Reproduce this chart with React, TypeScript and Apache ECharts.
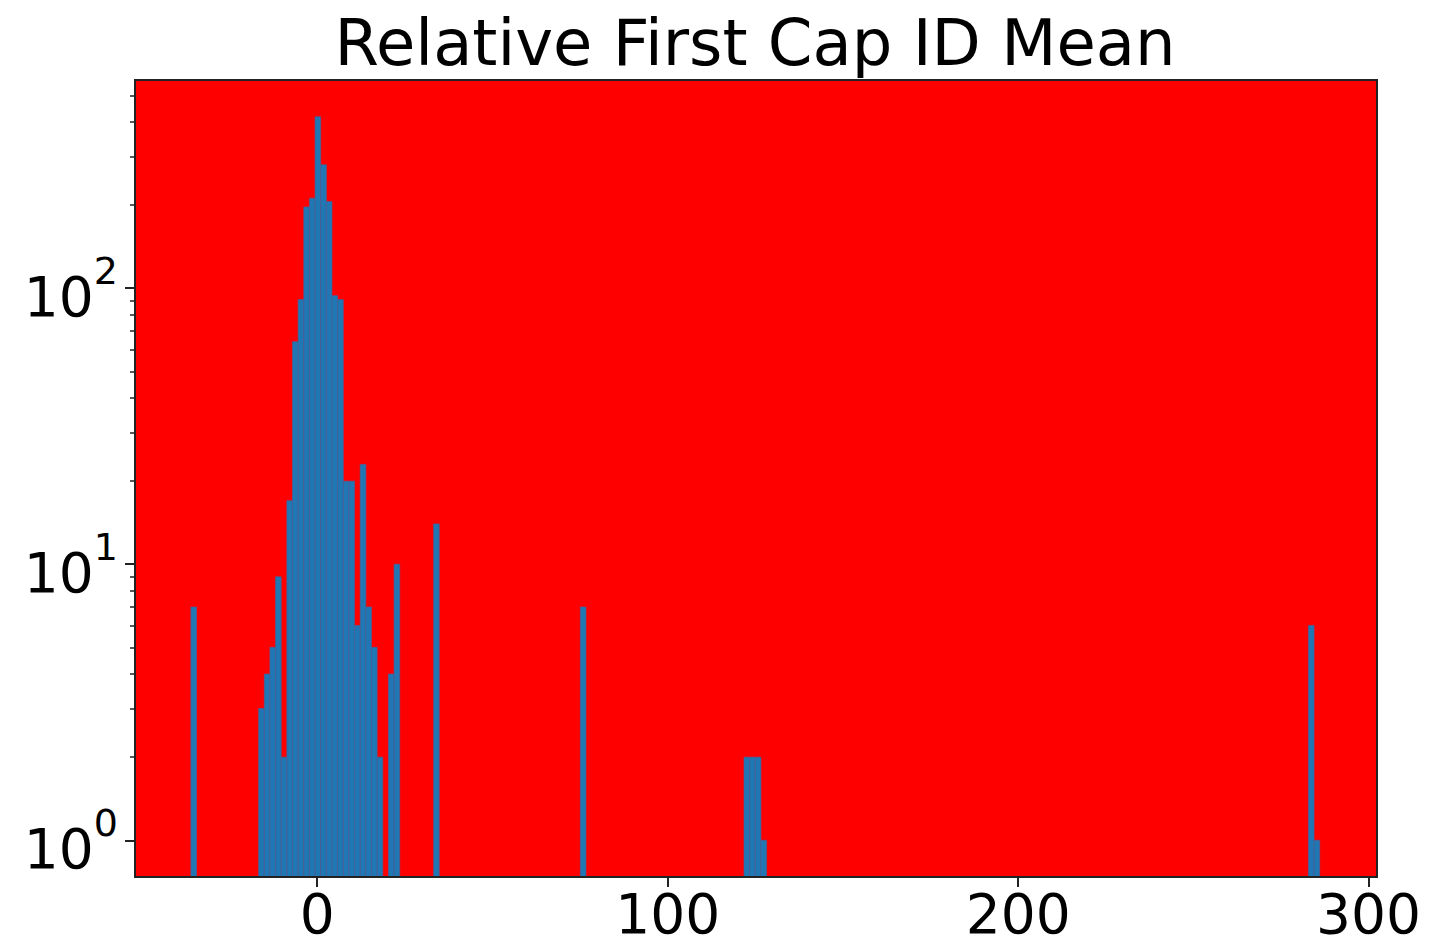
import React, { useEffect, useRef } from 'react';
import * as echarts from 'echarts';

const TITLE = 'Relative First Cap ID Mean';
// histogram: 200 equal bins starting at BIN_MIN; only non-empty bins listed
const BIN_MIN = -36.05;
const BIN_WIDTH = 1.6105;
const BIN_INDEX = [0, 12, 13, 14, 15, 16, 17, 18, 19, 20, 21, 22, 23, 24, 25, 26, 27, 28, 29, 30, 31, 32, 33, 35, 36, 43, 69, 98, 99, 100, 101, 198, 199];
const BIN_COUNT = [7, 3, 4, 5, 9, 2, 17, 64, 91, 197, 212, 418, 280, 206, 94, 91, 20, 20, 6, 23, 7, 5, 2, 4, 10, 14, 7, 2, 2, 2, 1, 6, 1];
const X_TICKS = [0, 100, 200, 300];
const Y_MAJOR = [1, 10, 100];
const Y_MINOR = [2, 3, 4, 5, 6, 7, 8, 9, 20, 30, 40, 50, 60, 70, 80, 90, 200, 300, 400, 500];
const X_MIN = -52;
const X_MAX = 302.4;
const Y_MIN = 0.736;
const Y_MAX = 568;

const FONT = 'DejaVu Sans';

export default function App() {
  const ref = useRef<HTMLDivElement>(null);
  useEffect(() => {
    if (!ref.current) return;
    const chart = echarts.init(ref.current, undefined, { renderer: 'svg' });
    const data = BIN_INDEX.map((b, i) => [BIN_MIN + b * BIN_WIDTH, BIN_MIN + (b + 1) * BIN_WIDTH, BIN_COUNT[i]]);
    chart.setOption({
      animation: false,
      backgroundColor: '#ffffff',
      title: {
        text: TITLE,
        left: 750,
        top: 6,
        textAlign: 'center',
        textStyle: { fontSize: 64, fontWeight: 'normal', color: '#000', fontFamily: FONT },
      },
      grid: {
        left: 135,
        top: 80,
        right: 52,
        bottom: 72,
        show: true,
        backgroundColor: '#ff0000',
        borderColor: '#222',
        borderWidth: 2,
      },
      xAxis: {
        type: 'value',
        min: X_MIN,
        max: X_MAX,
        z: 10,
        axisLine: { show: true, onZero: false, lineStyle: { color: '#222', width: 2 } },
        axisTick: { show: true, customValues: X_TICKS, length: 10, lineStyle: { color: '#222', width: 2 } },
        axisLabel: { customValues: X_TICKS, fontSize: 55, color: '#000', fontFamily: FONT, margin: 9 },
        splitLine: { show: false },
      },
      yAxis: [
        {
          type: 'log',
          logBase: 10,
          min: Y_MIN,
          max: Y_MAX,
          z: 10,
          axisLine: { show: true, onZero: false, lineStyle: { color: '#222', width: 2 } },
          axisTick: { show: true, customValues: Y_MAJOR, length: 10, lineStyle: { color: '#222', width: 2 } },
          axisLabel: {
            customValues: Y_MAJOR,
            margin: 17,
            formatter: (v: number) => `{b|10}{s|${Math.round(Math.log10(v))}}`,
            rich: {
              b: { fontSize: 55, fontFamily: FONT, color: '#000', lineHeight: 72, verticalAlign: 'bottom' },
              s: { fontSize: 38, fontFamily: FONT, color: '#000', lineHeight: 34, verticalAlign: 'top' },
            },
          },
          splitLine: { show: false },
        },
        {
          type: 'log',
          logBase: 10,
          min: Y_MIN,
          max: Y_MAX,
          position: 'left',
          z: 10,
          axisLine: { show: false, onZero: false },
          axisTick: { show: true, customValues: Y_MINOR, length: 5, lineStyle: { color: '#222', width: 1.5 } },
          axisLabel: { show: false },
          splitLine: { show: false },
        },
      ],
      series: [
        {
          type: 'custom',
          xAxisIndex: 0,
          yAxisIndex: 0,
          encode: { x: [0, 1], y: 2 },
          data,
          renderItem: (params: any, api: any) => {
            const x0 = api.value(0);
            const x1 = api.value(1);
            const c = api.value(2);
            const p0 = api.coord([x0, c]);
            const p1 = api.coord([x1, Y_MIN]);
            return {
              type: 'rect',
              shape: { x: p0[0], y: p0[1], width: p1[0] - p0[0], height: p1[1] - p0[1] },
              style: { fill: '#1f77b4', stroke: '#4a6098', lineWidth: 0.7 },
            };
          },
        },
      ],
    });
    return () => chart.dispose();
  }, []);
  return <div ref={ref} style={{ position: 'absolute', left: 0, top: 0, width: 1429, height: 949 }} />;
}
